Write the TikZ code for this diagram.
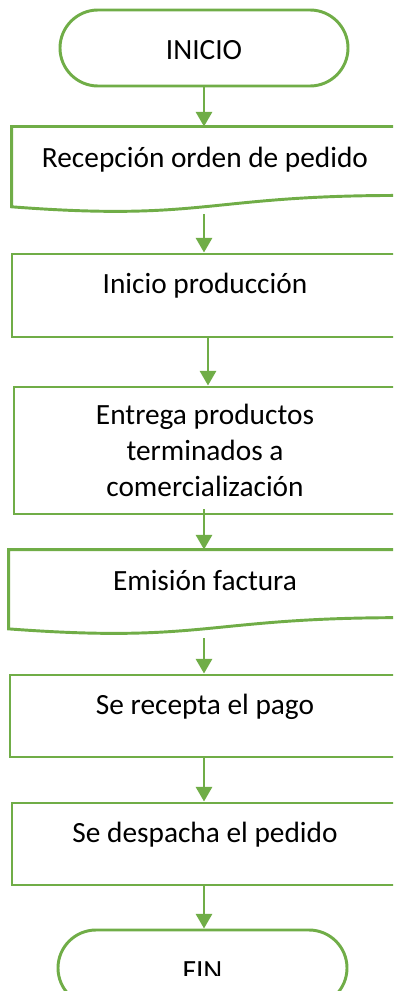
\documentclass[tikz,border=0pt]{standalone}
\usepackage{fontspec}
\setmainfont{Carlito}
\usepackage{tikz}
\usetikzlibrary{arrows.meta,calc}
\definecolor{C0}{RGB}{112,173,71}

\newcommand{\docoutline}[1]{%
        \draw[flow] (#1.north west) -- (#1.north east)
        -- ($(#1.north east)!0.802!(#1.south east)$)
        .. controls ($(#1.north)!0.802!(#1.south)$) and ($(#1.north)!1.107!(#1.south)$)
        .. ($(#1.north west)!0.934!(#1.south west)$) -- cycle;}

\tikzset{
        flow/.style={draw=C0, line width=2.2pt},
        arr/.style={flow, -{Triangle[width=12pt,length=11pt]}},
        box/.style={flow, inner sep=0pt, font=\fontsize{22}{27}\selectfont},
        term/.style={box, rounded corners=28.5pt, minimum width=216pt, minimum height=57pt,
                text height=18pt, text depth=0pt},
        proc/.style={box, text height=14pt, text depth=17pt},
        doc/.style={proc, draw=none},
}

\begin{document}
\begin{tikzpicture}[x=0.75pt,y=-0.75pt]
        \useasboundingbox (0,0) rectangle (393,991);
        \fill[white] (0,0) rectangle (393,991);
        \clip (0,0) rectangle (393,991);

        \coordinate (ax) at (204,0);
        \coordinate (bx) at (208,0);

        \node[term] (start) at (204,48) {INICIO};
        \node[doc, minimum width=288pt, minimum height=62.25pt] (recv) at (205,169.5) {Recepción orden de pedido};
        \node[proc, minimum width=289.5pt, minimum height=62.25pt] (prod) at (205,295.5) {Inicio producción};
        \node[box, align=center, minimum width=286.5pt, minimum height=95.25pt] (ent) at (205,450.5)
                {Entrega productos\\terminados a\\comercialización};
        \node[doc, minimum width=292.5pt, minimum height=61.5pt] (fac) at (205,592) {Emisión factura};
        \node[proc, minimum width=292.5pt, minimum height=61.5pt] (pago) at (205,716) {Se recepta el pago};
        \node[proc, minimum width=289.5pt, minimum height=61.5pt] (desp) at (205,844) {Se despacha el pedido};
        \node[term, minimum width=216.75pt] (end) at (202.5,968) {};
        \begin{scope}
                \clip (0,0) rectangle (393,975);
                \node[term, draw=none] (fin) at (end) {FIN};
        \end{scope}

        \docoutline{recv}
        \docoutline{fac}

        \draw[arr] (start.south) -- (start.south |- recv.north);
        \draw[arr] ([yshift=-1.5pt]recv.south -| ax) -- (prod.north -| ax);
        \draw[arr] (prod.south -| bx) -- (ent.north -| bx);
        \draw[arr] ([yshift=4.5pt]ent.south -| ax) -- (fac.north -| ax);
        \draw[arr] ([yshift=-3pt]fac.south -| ax) -- (pago.north -| ax);
        \draw[arr] (pago.south -| ax) -- (desp.north -| ax);
        \draw[arr] (desp.south -| ax) -- (end.north -| ax);
\end{tikzpicture}
\end{document}
